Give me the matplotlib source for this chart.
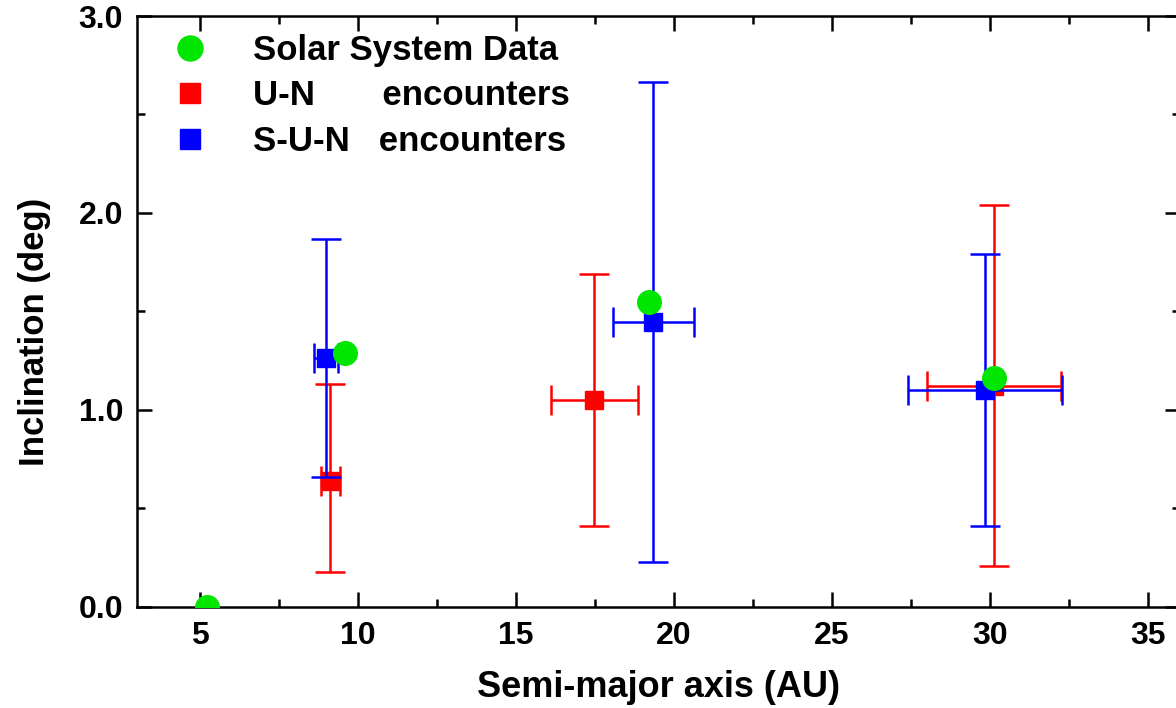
"""
Inclination vs semi-major axis of the giant planets, with simulated
U-N and S-U-N encounter outcomes (mean +/- spread).
"""

import matplotlib
matplotlib.use('Agg')
from matplotlib import pyplot as plt
from matplotlib.lines import Line2D
from matplotlib.ticker import MultipleLocator

plt.rcParams['font.family'] = ['Liberation Sans', 'DejaVu Sans']
plt.rcParams['font.weight'] = 'bold'

# Solar system values
solar_a = [5.2, 9.58, 19.2, 30.13]
solar_i = [0.0, 1.29, 1.55, 1.16]

# U-N encounters
un_a = [9.11, 17.47, 30.13]
un_i = [0.64, 1.05, 1.12]
un_a_err = [0.3, 1.38, 2.13]
un_i_lo = [0.46, 0.64, 0.91]
un_i_hi = [0.49, 0.64, 0.92]

# S-U-N encounters
sun_a = [8.99, 19.34, 29.84]
sun_i = [1.265, 1.447, 1.10]
sun_a_err = [0.38, 1.28, 2.44]
sun_i_err = [0.605, 1.22, 0.69]

RED = '#ff0000'
BLUE = '#0000ff'
GREEN = '#00e600'

fig = plt.figure(figsize=(11.76, 7.08), dpi=100)
ax = fig.add_axes([0.1165, 0.1427, 0.8865, 0.8347])

ax.errorbar(un_a, un_i, xerr=un_a_err, yerr=[un_i_lo, un_i_hi],
            fmt='s', color=RED, ms=13, elinewidth=1.8, capsize=11,
            capthick=1.8, zorder=3)
ax.errorbar(sun_a, sun_i, xerr=sun_a_err, yerr=sun_i_err,
            fmt='s', color=BLUE, ms=13, elinewidth=1.8, capsize=11,
            capthick=1.8, zorder=4)
ax.plot(solar_a, solar_i, 'o', color=GREEN, ms=17, zorder=5)

ax.set_xlim(3, 36)
ax.set_ylim(0, 3)
ax.xaxis.set_major_locator(MultipleLocator(5))
ax.xaxis.set_minor_locator(MultipleLocator(2.5))
ax.yaxis.set_major_locator(MultipleLocator(1.0))
ax.yaxis.set_minor_locator(MultipleLocator(0.5))
ax.yaxis.set_major_formatter('{x:.1f}')

ax.tick_params(which='both', direction='in', top=True, right=True,
               width=1.8, labelsize=23, pad=10)
ax.tick_params(which='major', length=11)
ax.tick_params(which='minor', length=6)
for s in ax.spines.values():
    s.set_linewidth(1.8)

ax.set_xlabel('Semi-major axis (AU)', fontsize=26, fontweight='bold')
ax.set_ylabel('Inclination (deg)', fontsize=25, fontweight='bold')
ax.xaxis.set_label_coords(0.50, -0.137)
ax.xaxis.label.set_va('center')
ax.yaxis.set_label_coords(-0.098, 0.465)
ax.yaxis.label.set_va('center')

handles = [
    Line2D([], [], ls='none', marker='o', color=GREEN, ms=18),
    Line2D([], [], ls='none', marker='s', color=RED, ms=14),
    Line2D([], [], ls='none', marker='s', color=BLUE, ms=14),
]
labels = ['Solar System Data', 'U-N       encounters', 'S-U-N   encounters']
ax.legend(handles, labels, loc='upper left', bbox_to_anchor=(0.008, 1.017),
          frameon=False, fontsize=25, handlelength=1.0, handletextpad=1.3,
          labelspacing=0.36, borderaxespad=0.4)

fig.savefig('out.png', dpi=100)
